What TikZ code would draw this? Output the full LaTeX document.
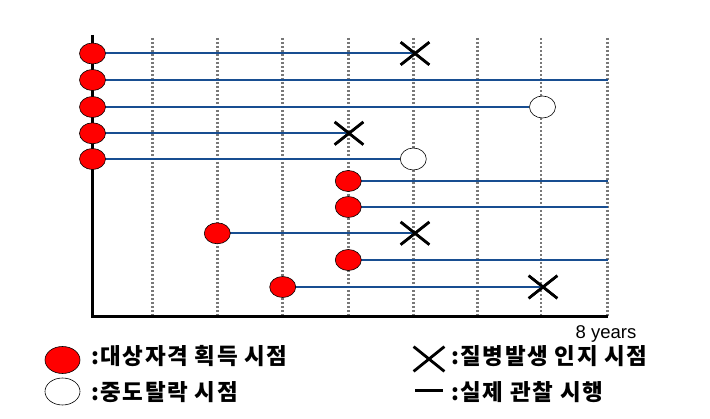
\documentclass[tikz,border=0pt]{standalone}
\usepackage{fontspec}
\setmainfont{Liberation Sans}
\newfontfamily\kr[LetterSpace=7]{Noto Sans CJK KR}
\usetikzlibrary{shapes.misc,shapes.geometric}
\definecolor{lineblue}{RGB}{24,78,145}
\definecolor{dotgray}{RGB}{120,120,120}
\definecolor{dotred}{RGB}{255,0,0}
\tikzset{
  entry/.style={ellipse, draw=black, line width=0.6pt, fill=dotred, minimum width=26pt, minimum height=21pt, inner sep=0pt},
  dropout/.style={ellipse, draw=black, line width=0.6pt, fill=white, minimum width=26pt, minimum height=22pt, inner sep=0pt},
  disease/.style={cross out, draw=black, line width=2.6pt, minimum width=26pt, minimum height=20pt, inner sep=0pt},
  obs/.style={draw=lineblue, line width=2pt},
  grid/.style={draw=dotgray, line width=2.8pt, dash pattern=on 2.2pt off 1.8pt},
  axis/.style={draw=black, line width=3pt},
  legtext/.style={anchor=west, inner sep=0pt, font=\kr\bfseries\fontsize{22.5}{26}\selectfont},
}
\begin{document}
\begin{tikzpicture}[x=1pt,y=-1pt]
\useasboundingbox (0,0) rectangle (710,419);
% grid
\foreach \gx/\gn in {152.7/1,217.3/2,282.7/3,348.3/4,413.3/5,477.3/6,541/7,607.3/8}{
  \coordinate (gt\gn) at (\gx,38);
  \coordinate (gb\gn) at (\gx,316);
  \draw[grid] (gt\gn) -- (gb\gn);
}
% axis
\coordinate (ytop) at (92.5,35);
\coordinate (orig) at (92.5,316.5);
\coordinate (xend) at (607.5,316.5);
\draw[axis] (ytop) -- (orig) -- (xend);
% end coordinates
\coordinate (e2) at (607.5,80);
\coordinate (e6) at (607.5,181);
\coordinate (e7) at (607.5,207);
\coordinate (e9) at (607.5,260);
% markers
\node[disease] (x1) at (415,53.5) {};
\node[dropout] (o3) at (542.5,107) {};
\node[disease] (x4) at (349,133.3) {};
\node[dropout] (o5) at (413.3,159) {};
\node[disease] (x8) at (415,233.3) {};
\node[disease] (x10) at (543,287) {};
% observation lines
\draw[obs] (92.5,53.5) coordinate (s1) -- (x1.center);
\draw[obs] (92.5,80) coordinate (s2) -- (e2);
\draw[obs] (92.5,107) coordinate (s3) -- (o3.west);
\draw[obs] (92.5,133.3) coordinate (s4) -- (x4.center);
\draw[obs] (92.5,159) coordinate (s5) -- (o5.west);
\draw[obs] (348.3,181) coordinate (s6) -- (e6);
\draw[obs] (348.3,207) coordinate (s7) -- (e7);
\draw[obs] (217.3,233.3) coordinate (s8) -- (x8.center);
\draw[obs] (348.3,260) coordinate (s9) -- (e9);
\draw[obs] (282.7,287) coordinate (s10) -- (x10.center);
% redraw crosses on top of lines
\node[disease] at (x1) {};
\node[disease] at (x4) {};
\node[disease] at (x8) {};
\node[disease] at (x10) {};
% entry points
\node[entry] (r1) at (s1) {};
\node[entry] (r2) at (s2) {};
\node[entry] (r3) at (s3) {};
\node[entry] (r4) at (s4) {};
\node[entry] (r5) at (s5) {};
\node[entry] (r6) at (s6) {};
\node[entry] (r7) at (s7) {};
\node[entry] (r8) at (s8) {};
\node[entry] (r9) at (s9) {};
\node[entry] (r10) at (s10) {};
% axis label
\node[inner sep=0pt, font=\fontsize{18.5}{20}\selectfont] (yrs) at (606,334) {8 years};
% legend
\node[entry, minimum width=35pt, minimum height=27pt] (lg1) at (62.5,360) {};
\node[legtext] (lt1) at (91,356) {:대상자격 획득 시점};
\node[dropout, minimum width=35pt, minimum height=27pt] (lg2) at (62.5,391.5) {};
\node[legtext] (lt2) at (91,392) {:중도탈락 시점};
\node[disease, minimum width=28pt, minimum height=22pt, line width=2.8pt] (lg3) at (429,359) {};
\node[legtext] (lt3) at (451,356) {:질병발생 인지 시점};
\coordinate (lg4a) at (415,391);
\coordinate (lg4b) at (443,391);
\draw[draw=black, line width=3pt] (lg4a) -- (lg4b);
\node[legtext] (lt4) at (451,392) {:실제 관찰 시행};
\end{tikzpicture}
\end{document}
